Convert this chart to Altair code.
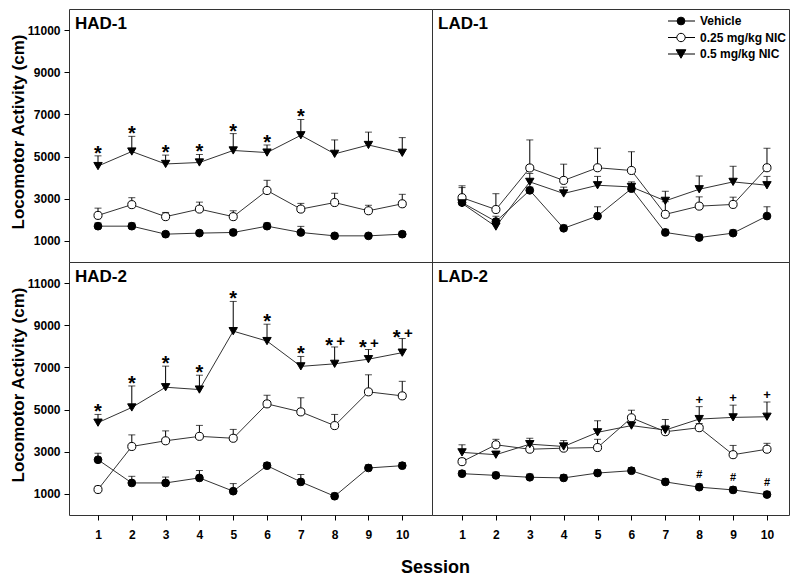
import altair as alt
import pandas as pd

FONT = "Liberation Sans"

sessions = list(range(1, 11))
groups = ["Vehicle", "0.25 mg/kg NIC", "0.5 mg/kg NIC"]
panels = ["HAD-1", "LAD-1", "HAD-2", "LAD-2"]

# ---- HAD-1 ----
had1_veh = [1700, 1700, 1320, 1370, 1400, 1700, 1400, 1240, 1240, 1320]
had1_veh_sem = [150, 150, 120, 120, 150, 150, 290, 120, 120, 120]
had1_low = [2210, 2720, 2150, 2510, 2150, 3390, 2510, 2820, 2430, 2760]
had1_low_sem = [345, 330, 200, 330, 280, 485, 270, 440, 260, 450]
had1_high = [4550, 5240, 4650, 4720, 5290, 5190, 6010, 5130, 5550, 5180]
had1_high_sem = [485, 720, 420, 380, 800, 360, 750, 660, 610, 720]

# ---- LAD-1 ----
lad1_veh = [2820, 1920, 3400, 1600, 2180, 3480, 1400, 1160, 1370, 2180]
lad1_veh_sem = [150, 250, 150, 150, 440, 150, 150, 150, 150, 440]
lad1_low = [3050, 2490, 4460, 3870, 4470, 4340, 2260, 2650, 2730, 4470]
lad1_low_sem = [565, 750, 1330, 770, 930, 890, 600, 440, 345, 925]
lad1_high = [2780, 1680, 3800, 3250, 3640, 3560, 2900, 3450, 3800, 3640]
lad1_high_sem = [750, 300, 400, 300, 420, 240, 455, 630, 740, 420]

# ---- HAD-2 ----
had2_veh = [2620, 1520, 1520, 1760, 1130, 2340, 1570, 890, 2230, 2340]
had2_veh_sem = [310, 315, 280, 350, 360, 150, 350, 150, 150, 150]
had2_low = [1210, 3250, 3520, 3730, 3640, 5270, 4890, 4240, 5840, 5650]
had2_low_sem = [150, 550, 470, 520, 420, 410, 670, 530, 810, 690]
had2_high = [4380, 5100, 6060, 5950, 8720, 8250, 7050, 7170, 7390, 7700]
had2_high_sem = [390, 1020, 1000, 680, 1410, 800, 470, 800, 460, 670]

# ---- LAD-2 ----
lad2_veh = [1960, 1880, 1790, 1760, 1990, 2100, 1570, 1320, 1190, 970]
lad2_veh_sem = [150, 150, 150, 150, 150, 150, 150, 150, 150, 150]
lad2_low = [2530, 3330, 3120, 3170, 3200, 4610, 3950, 4140, 2860, 3120]
lad2_low_sem = [150, 260, 150, 150, 390, 360, 300, 200, 440, 280]
lad2_high = [2970, 2860, 3360, 3250, 3920, 4240, 4030, 4550, 4630, 4660]
lad2_high_sem = [360, 150, 280, 280, 550, 300, 500, 590, 580, 700]

means = {
    "HAD-1": [had1_veh, had1_low, had1_high],
    "LAD-1": [lad1_veh, lad1_low, lad1_high],
    "HAD-2": [had2_veh, had2_low, had2_high],
    "LAD-2": [lad2_veh, lad2_low, lad2_high],
}
sems = {
    "HAD-1": [had1_veh_sem, had1_low_sem, had1_high_sem],
    "LAD-1": [lad1_veh_sem, lad1_low_sem, lad1_high_sem],
    "HAD-2": [had2_veh_sem, had2_low_sem, had2_high_sem],
    "LAD-2": [lad2_veh_sem, lad2_low_sem, lad2_high_sem],
}

# significance marks: (panel, sessions, kind, anchor group index, anchor)
annotations = [
    ("HAD-1", [1, 2, 3, 4, 5, 6, 7], "star", 2, "top"),
    ("HAD-2", [1, 2, 3, 4, 5, 6, 7], "star", 2, "top"),
    ("HAD-2", [8, 9, 10], "star_l", 2, "top"),
    ("HAD-2", [8, 9, 10], "plus_r", 2, "top"),
    ("LAD-2", [8, 9, 10], "plus", 2, "top"),
    ("LAD-2", [8, 9, 10], "hash", 0, "mean"),
]
kinds = {
    "star": dict(text="*", size=20, dx=0, dy=4),
    "star_l": dict(text="*", size=20, dx=-5.5, dy=5),
    "plus_r": dict(text="+", size=15, dx=6, dy=-1),
    "plus": dict(text="+", size=13, dx=0, dy=-3),
    "hash": dict(text="#", size=11, dx=0, dy=-9),
}

rows = []
for p in panels:
    for gi, g in enumerate(groups):
        for s, m, e in zip(sessions, means[p][gi], sems[p][gi]):
            rows.append(dict(panel=p, group=g, session=s, mean=m, top=m + e))
df = pd.DataFrame(rows)

ann_rows = []
for p, sess, kind, gi, anchor in annotations:
    for s in sess:
        m = means[p][gi][s - 1]
        v = m + sems[p][gi][s - 1] if anchor == "top" else m
        ann_rows.append(dict(panel=p, session=s, y=v, kind=kind, label=kinds[kind]["text"]))
ann = pd.DataFrame(ann_rows)

H = 253
W_LEFT, W_RIGHT = 363, 357
XDOM_LEFT = [0.142, 10.88]
XDOM_RIGHT = [0.114, 10.65]

shape_scale = alt.Scale(domain=groups, range=["circle", "circle", "triangle-down"])
fill_scale = alt.Scale(domain=groups, range=["black", "white", "black"])
size_scale = alt.Scale(domain=groups, range=[60, 70, 95])


def make_panel(p, left, bottom):
    d = df[df.panel == p]
    width = W_LEFT if left else W_RIGHT
    xscale = alt.Scale(domain=XDOM_LEFT if left else XDOM_RIGHT, nice=False, zero=False)
    yscale = alt.Scale(domain=[0, 12000], nice=False, zero=False)
    if bottom:
        xaxis = alt.Axis(
            values=sessions, format="d", tickSize=5, tickColor="black", domain=False,
            grid=False, labelFontSize=12, labelFontWeight="bold", labelFont=FONT,
            labelColor="black", labelPadding=9,
            title="Session" if left else None,
            titleFontSize=18, titleFontWeight="bold", titleFont=FONT, titleColor="black",
            titleX=width + 3, titleY=57, titleBaseline="alphabetic",
        )
    else:
        xaxis = None
    if left:
        yaxis = alt.Axis(
            values=[1000, 3000, 5000, 7000, 9000, 11000], format="d", tickSize=5,
            tickColor="black", domain=False, grid=False, labelFontSize=12,
            labelFontWeight="bold", labelFont=FONT, labelColor="black", labelPadding=4,
            title="Locomotor Activity (cm)", titleFontSize=17, titleFontWeight="bold",
            titleFont=FONT, titleColor="black", titlePadding=0, titleY=H / 2 - 4,
        )
    else:
        yaxis = None
    X = alt.X("session:Q", scale=xscale, axis=xaxis)
    base = alt.Chart(d)
    rules = base.mark_rule(color="black", strokeWidth=1).encode(
        x=X, y=alt.Y("mean:Q", scale=yscale, axis=yaxis), y2="top:Q")
    caps = base.mark_tick(color="black", thickness=1, size=7, orient="horizontal").encode(
        x=X, y=alt.Y("top:Q", scale=yscale, axis=yaxis))
    lines = base.mark_line(color="#333333", strokeWidth=1).encode(
        x=X, y=alt.Y("mean:Q", scale=yscale, axis=yaxis), detail="group:N")
    pts = base.mark_point(filled=True, stroke="black", strokeWidth=1, opacity=1).encode(
        x=X, y=alt.Y("mean:Q", scale=yscale, axis=yaxis),
        shape=alt.Shape("group:N", scale=shape_scale, legend=None),
        fill=alt.Fill("group:N", scale=fill_scale, legend=None),
        size=alt.Size("group:N", scale=size_scale, legend=None),
    )
    layers = [rules, caps, lines, pts]
    a = ann[ann.panel == p]
    for k, spec in kinds.items():
        ak = a[a.kind == k]
        if len(ak) == 0:
            continue
        layers.append(
            alt.Chart(ak).mark_text(
                font=FONT, fontWeight="bold", fontSize=spec["size"], dx=spec["dx"],
                dy=spec["dy"], baseline="alphabetic", align="center", color="black",
            ).encode(x=X, y=alt.Y("y:Q", scale=yscale, axis=yaxis), text="label:N")
        )
    label = alt.Chart(pd.DataFrame({"label": [p]})).mark_text(
        font=FONT, fontWeight="bold", fontSize=17, align="left", baseline="alphabetic",
        color="black",
    ).encode(x=alt.value(6), y=alt.value(20), text="label:N")
    layers.append(label)
    if p == "LAD-1":
        legend_fill = ["black", "white", "black"]
        legend_shape = ["circle", "circle", "triangle-down"]
        legend_size = [60, 70, 95]
        for i, g in enumerate(groups):
            ry = 12 + 16.5 * i
            gd = pd.DataFrame({"group": [g]})
            layers.append(alt.Chart(gd).mark_rule(color="black", strokeWidth=1).encode(
                x=alt.value(236), x2=alt.value(263), y=alt.value(ry)))
            layers.append(alt.Chart(gd).mark_point(
                filled=True, stroke="black", strokeWidth=1, opacity=1,
                fill=legend_fill[i], shape=legend_shape[i], size=legend_size[i],
            ).encode(x=alt.value(249), y=alt.value(ry)))
            layers.append(alt.Chart(gd).mark_text(
                font=FONT, fontWeight="bold", fontSize=12, align="left",
                baseline="middle", color="black",
            ).encode(x=alt.value(268), y=alt.value(ry), text="group:N"))
    return alt.layer(*layers).properties(width=width, height=H)


chart = alt.concat(
    make_panel("HAD-1", True, False), make_panel("LAD-1", False, False),
    make_panel("HAD-2", True, True), make_panel("LAD-2", False, True),
    columns=2, spacing=0, bounds="flush",
).properties(
    padding={"left": 0, "top": 0, "right": 0, "bottom": 0},
    background="white",
).configure_view(stroke="#333333", strokeWidth=1)

chart.save("out.html", embed_options={"renderer": "svg", "actions": False})
